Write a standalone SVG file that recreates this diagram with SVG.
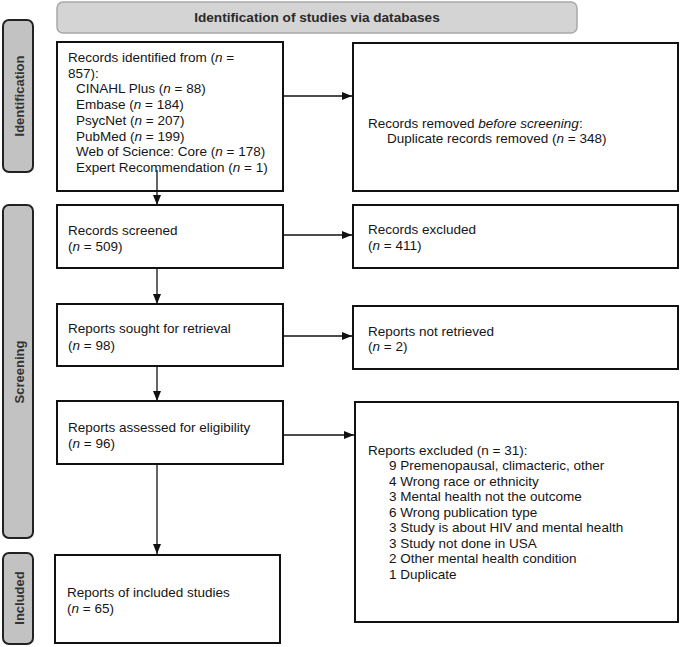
<svg xmlns="http://www.w3.org/2000/svg" width="680" height="647" viewBox="0 0 680 647">
<defs>
<style>
.bg{fill:#fff}
.hdr{fill:#d4d4d4;stroke:#a8a8a8;stroke-width:1.5}
.side{fill:#c2c2c2;stroke:#222;stroke-width:2}
.box{fill:#fff;stroke:#111;stroke-width:2}
text{font-family:"Liberation Sans",Arial,sans-serif;fill:#151515}
.t{font-size:13.5px}
.b{font-size:13.6px;font-weight:bold;fill:#2a2a2a}
.sl{font-size:13px;font-weight:bold;fill:#333}
.conn line{stroke:#111;stroke-width:1.3}
</style>
<marker id="ah" viewBox="0 0 10 8" refX="10" refY="4" markerWidth="10" markerHeight="8" markerUnits="userSpaceOnUse" orient="auto">
<path d="M0,0L10,4L0,8z" fill="#111"/>
</marker>
</defs>
<rect class="bg" x="0" y="0" width="680" height="647"/>

<g id="header">
<rect class="hdr" x="57" y="2" width="520" height="31" rx="6"/>
<text class="b" x="317" y="22" text-anchor="middle">Identification of studies via databases</text>
</g>

<g id="side-identification">
<rect class="side" x="3" y="20" width="30" height="152" rx="6"/>
<text class="sl" transform="translate(24,96) rotate(-90)" text-anchor="middle">Identification</text>
</g>
<g id="side-screening">
<rect class="side" x="3" y="205" width="30" height="333" rx="6"/>
<text class="sl" transform="translate(24,372) rotate(-90)" text-anchor="middle">Screening</text>
</g>
<g id="side-included">
<rect class="side" x="3" y="553" width="30" height="91" rx="6"/>
<text class="sl" transform="translate(24,598) rotate(-90)" text-anchor="middle">Included</text>
</g>

<g id="records-identified">
<rect class="box" x="57" y="42" width="226" height="149"/>
<text class="t" x="68" y="62">Records identified from (<tspan font-style="italic">n</tspan> =</text>
<text class="t" x="68" y="77.7">857):</text>
<text class="t" x="76" y="93.4">CINAHL Plus (<tspan font-style="italic">n</tspan> = 88)</text>
<text class="t" x="76" y="109.1">Embase (<tspan font-style="italic">n</tspan> = 184)</text>
<text class="t" x="76" y="124.8">PsycNet (<tspan font-style="italic">n</tspan> = 207)</text>
<text class="t" x="76" y="140.5">PubMed (<tspan font-style="italic">n</tspan> = 199)</text>
<text class="t" x="76" y="156.2">Web of Science: Core (<tspan font-style="italic">n</tspan> = 178)</text>
<text class="t" x="76" y="171.9">Expert Recommendation (<tspan font-style="italic">n</tspan> = 1)</text>
</g>

<g id="records-removed">
<rect class="box" x="353" y="43" width="325" height="148"/>
<text class="t" x="368" y="128">Records removed <tspan font-style="italic">before screening</tspan>:</text>
<text class="t" x="387" y="143">Duplicate records removed (<tspan font-style="italic">n</tspan> = 348)</text>
</g>

<g id="records-screened">
<rect class="box" x="57" y="205" width="226" height="63"/>
<text class="t" x="68" y="234.5">Records screened</text>
<text class="t" x="68" y="250.5">(<tspan font-style="italic">n</tspan> = 509)</text>
</g>

<g id="records-excluded">
<rect class="box" x="353" y="205" width="325" height="63"/>
<text class="t" x="368" y="234">Records excluded</text>
<text class="t" x="368" y="249.5">(<tspan font-style="italic">n</tspan> = 411)</text>
</g>

<g id="reports-sought">
<rect class="box" x="57" y="304" width="226" height="62"/>
<text class="t" x="68" y="333">Reports sought for retrieval</text>
<text class="t" x="68" y="350">(<tspan font-style="italic">n</tspan> = 98)</text>
</g>

<g id="reports-not-retrieved">
<rect class="box" x="353" y="306" width="325" height="63"/>
<text class="t" x="368" y="335.5">Reports not retrieved</text>
<text class="t" x="368" y="351">(<tspan font-style="italic">n</tspan> = 2)</text>
</g>

<g id="reports-assessed">
<rect class="box" x="57" y="401" width="226" height="63"/>
<text class="t" x="68" y="432">Reports assessed for eligibility</text>
<text class="t" x="68" y="448">(<tspan font-style="italic">n</tspan> = 96)</text>
</g>

<g id="reports-excluded">
<rect class="box" x="355" y="402" width="323" height="220"/>
<text class="t" x="368" y="454.5">Reports excluded (n = 31):</text>
<text class="t" x="389" y="470">9 Premenopausal, climacteric, other</text>
<text class="t" x="389" y="485.5">4 Wrong race or ethnicity</text>
<text class="t" x="389" y="501">3 Mental health not the outcome</text>
<text class="t" x="389" y="516.5">6 Wrong publication type</text>
<text class="t" x="389" y="532">3 Study is about HIV and mental health</text>
<text class="t" x="389" y="547.5">3 Study not done in USA</text>
<text class="t" x="389" y="563">2 Other mental health condition</text>
<text class="t" x="389" y="578.5">1 Duplicate</text>
</g>

<g id="reports-included">
<rect class="box" x="55" y="555" width="225" height="88"/>
<text class="t" x="67" y="596.5">Reports of included studies</text>
<text class="t" x="67" y="612.5">(<tspan font-style="italic">n</tspan> = 65)</text>
</g>

<g id="connectors" class="conn">
<line x1="283" y1="96" x2="352" y2="96" marker-end="url(#ah)"/>
<line x1="157" y1="170" x2="157" y2="205" marker-end="url(#ah)"/>
<line x1="283" y1="235" x2="352" y2="235" marker-end="url(#ah)"/>
<line x1="157" y1="268" x2="157" y2="304" marker-end="url(#ah)"/>
<line x1="283" y1="336" x2="352" y2="336" marker-end="url(#ah)"/>
<line x1="157" y1="366" x2="157" y2="401" marker-end="url(#ah)"/>
<line x1="283" y1="435" x2="354" y2="435" marker-end="url(#ah)"/>
<line x1="157" y1="464" x2="157" y2="554" marker-end="url(#ah)"/>
</g>
</svg>
